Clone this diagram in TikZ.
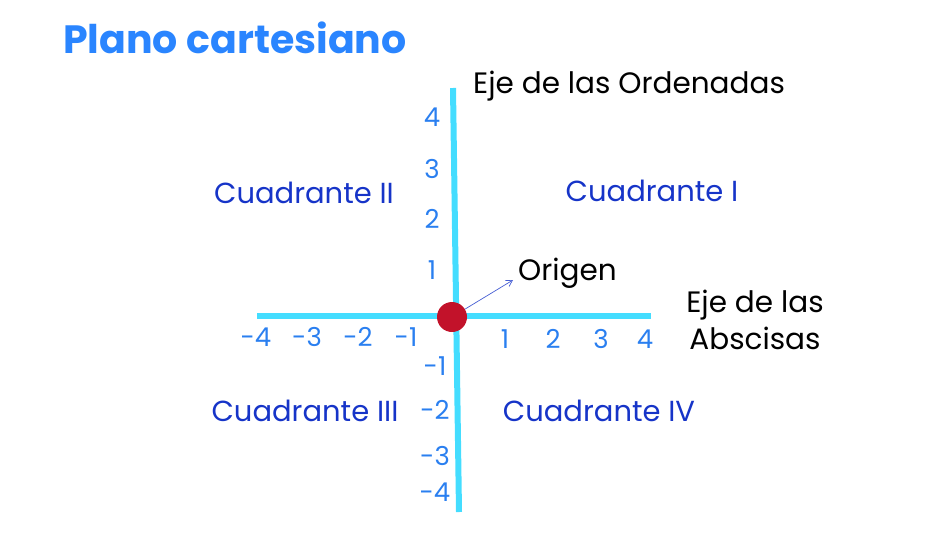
\documentclass[tikz,border=0pt]{standalone}
\usepackage{fontspec}
\setmainfont{Poppins}
\usetikzlibrary{arrows.meta}
\definecolor{titleblue}{HTML}{2A85FF}
\definecolor{numblue}{HTML}{2A7FF0}
\definecolor{quadblue}{HTML}{1634C8}
\definecolor{axiscyan}{HTML}{44DDFF}
\definecolor{dotred}{HTML}{C2122A}
\tikzset{
  num/.style={text=numblue, font=\fontsize{26}{26}\selectfont, inner sep=0pt, anchor=center},
  quad/.style={text=quadblue, font=\fontsize{29}{29}\selectfont, inner sep=0pt, anchor=center},
  lbl/.style={text=black, font=\fontsize{29.5}{37}\selectfont, inner sep=0pt},
  axisline/.style={draw=axiscyan, line width=6pt},
}
\begin{document}
\begin{tikzpicture}[x=1pt,y=-1pt]
\useasboundingbox (0,0) rectangle (945,544);
% title
\node[anchor=west, inner sep=0pt, text=titleblue, font=\fontsize{39.5}{40}\selectfont\bfseries] (title) at (63,38) {Plano cartesiano};
% axes
\coordinate (xl) at (257,316);
\coordinate (xr) at (651,316);
\coordinate (yt) at (453,88);
\coordinate (yb) at (459,512);
\draw[axisline] (xl) -- (xr);
\draw[axisline] (yt) -- (yb);
% origin
\node[circle, fill=dotred, minimum size=30pt, inner sep=0pt] (o) at (452,317) {};
\coordinate (arr) at (513,280);
\draw[-{Straight Barb[length=6pt,width=7pt]}, draw=quadblue!80, line width=0.7pt] (o) -- (arr);
\node[lbl, anchor=west] (origen) at (518,273) {Origen};
% axis labels
\node[lbl, anchor=west] (ord) at (473,86) {Eje de las Ordenadas};
\node[lbl, align=center] (abs) at (755,320) {Eje de las\\Abscisas};
% x ticks
\node[num] (xm4) at (256,337) {-4};
\node[num] (xm3) at (307,337) {-3};
\node[num] (xm2) at (358,337) {-2};
\node[num] (xm1) at (406,337) {-1};
\node[num] (x1) at (505,339) {1};
\node[num] (x2) at (553,339) {2};
\node[num] (x3) at (601,339) {3};
\node[num] (x4) at (645,339) {4};
% y ticks
\node[num] (y4) at (432,117) {4};
\node[num] (y3) at (432,169) {3};
\node[num] (y2) at (432,219) {2};
\node[num] (y1) at (432,270) {1};
\node[num] (ym1) at (435,366) {-1};
\node[num] (ym2) at (435,410) {-2};
\node[num] (ym3) at (435,456) {-3};
\node[num] (ym4) at (435,492) {-4};
% quadrants
\node[quad] (q1) at (652,191) {Cuadrante I};
\node[quad] (q2) at (304,193) {Cuadrante II};
\node[quad] (q3) at (305,411) {Cuadrante III};
\node[quad] (q4) at (599,411) {Cuadrante IV};
\end{tikzpicture}
\end{document}
